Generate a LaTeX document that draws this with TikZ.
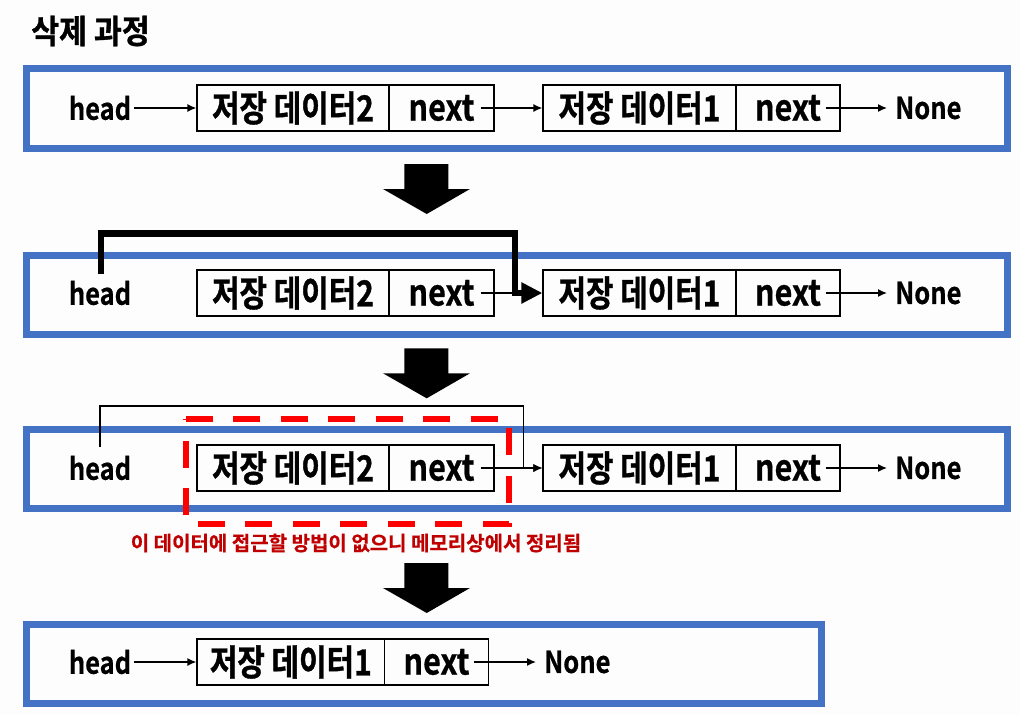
\documentclass[tikz,border=0pt]{standalone}
\usepackage{fontspec}
\usepackage{xcolor}
\usepackage{tikz}
\usetikzlibrary{calc,arrows.meta}
\newfontfamily\titlefont[FakeStretch=0.92,FakeBold=1]{Noto Sans CJK KR Bold}
\newfontfamily\datafont[FakeStretch=0.83,FakeBold=1]{Noto Sans CJK KR Bold}
\newfontfamily\latinfont[FakeStretch=0.85,FakeBold=0.6]{Noto Sans CJK KR Bold}
\newfontfamily\notefont[FakeBold=0.6]{Noto Sans CJK KR Bold}
\definecolor{paper}{HTML}{FDFDFD}
\definecolor{frame}{HTML}{4472C4}
\definecolor{gone}{HTML}{FF0000}
\definecolor{note}{HTML}{C00000}
\tikzset{
  stage/.style={draw=frame, line width=7pt},
  datacell/.style={draw, line width=1.2pt, minimum height=46pt, inner sep=0pt,
    font=\datafont\fontsize{36}{38}\selectfont},
  nextcell/.style={draw, line width=1.2pt, minimum height=46pt, minimum width=105pt,
    inner sep=0pt, font=\latinfont\fontsize{36}{38}\selectfont},
  word/.style={inner xsep=3pt, font=\latinfont\fontsize{30}{32}\selectfont},
  nonelab/.style={anchor=west, inner xsep=8pt, font=\latinfont\fontsize{30}{32}\selectfont},
  ptr/.style={line width=1.4pt, -{Latex[length=9pt 0,width=8pt 0]}},
  fatptr/.style={line width=6.7pt, -{Triangle[length=21pt 0,width=20pt 0]}},
  wipe/.style={draw=gone, line width=6pt, dash pattern=on 27pt off 20.5pt},
}

\begin{document}
\begin{tikzpicture}[x=1pt,y=-1pt]
  \fill[paper] (0,0) rectangle (1020,715);
  \useasboundingbox (0,0) rectangle (1020,715);

  \node[anchor=west, inner sep=0pt, font=\titlefont\fontsize{33}{35}\selectfont] (title) at (31,31) {삭제 과정};

  % stage frames
  \draw[stage] (26.3,68.3) rectangle (1007.5,148.3);
  \draw[stage] (26.3,255) rectangle (1007.5,334);
  \draw[stage] (26.3,429.3) rectangle (1007.5,508.3);
  \draw[stage] (26.3,624.5) rectangle (821.5,703);

  % big down arrows
  \foreach \y in {164,348.3,563}
    \fill (404.3,\y) -- (448.3,\y) -- (448.3,\y+25) -- (470,\y+25) -- (426.7,\y+50)
      -- (383,\y+25) -- (404.3,\y+25) -- cycle;

  % stage 1
  \node[word] (ha) at (100,108) {head};
  \node[datacell, minimum width=192pt] (d2a) at (293,108) {저장 데이터2};
  \node[nextcell] (n2a) at (441.5,108) {next};
  \node[datacell, minimum width=193pt] (d1a) at (639.5,108) {저장 데이터1};
  \node[nextcell, minimum width=104pt] (n1a) at (788,108) {next};
  \node[nonelab] (na) at (887,108) {None};
  \draw[ptr] (ha) -- (d2a);
  \draw[ptr] ($(n2a.east)+(-14,0)$) -- (d1a);
  \draw[ptr] ($(n1a.east)+(-15,0)$) -- (na);

  % stage 2
  \node[word] (hb) at (100,293) {head};
  \node[datacell, minimum width=192pt] (d2b) at (293,293) {저장 데이터2};
  \node[nextcell] (n2b) at (441.5,293) {next};
  \node[datacell, minimum width=193pt] (d1b) at (639.5,293) {저장 데이터1};
  \node[nextcell, minimum width=104pt] (n1b) at (788,293) {next};
  \node[nonelab] (nb) at (887,293) {None};
  \coordinate (hbtop) at (101,274);
  \coordinate (kb) at (515,233.7);
  \draw[line width=1.4pt] ($(n2b.east)+(-14,0)$) -- (kb |- d1b.west);
  \draw[fatptr] (hbtop) |- (kb) |- (d1b.west);
  \draw[ptr] ($(n1b.east)+(-15,0)$) -- (nb);

  % stage 3
  \node[word] (hc) at (100,468) {head};
  \node[datacell, minimum width=192pt] (d2c) at (293,468) {저장 데이터2};
  \node[nextcell] (n2c) at (441.5,468) {next};
  \node[datacell, minimum width=193pt] (d1c) at (639.5,468) {저장 데이터1};
  \node[nextcell, minimum width=104pt] (n1c) at (788,468) {next};
  \node[nonelab] (nc) at (887,468) {None};
  \coordinate (hctop) at (100,447);
  \coordinate (kc) at (523.5,406);
  \draw[ptr] (hctop) |- (kc) |- (d1c.west);
  \draw[ptr] ($(n2c.east)+(-14,0)$) -- (d1c);
  \draw[ptr] ($(n1c.east)+(-15,0)$) -- (nc);
  \draw[wipe] (185.5,419) -- (509,419) -- (509,523.7) -- (185.5,523.7) -- cycle;
  \node[text=note, font=\notefont\fontsize{20}{22}\selectfont] (gc) at (356,543)
    {이 데이터에 접근할 방법이 없으니 메모리상에서 정리됨};

  % stage 4
  \node[word] (hd) at (100,662) {head};
  \node[datacell, minimum width=187.6pt] (d1d) at (290.8,662) {저장 데이터1};
  \node[nextcell, minimum width=104pt] (n1d) at (436.5,662) {next};
  \node[nonelab] (nd) at (536,662) {None};
  \draw[ptr] (hd) -- (d1d);
  \draw[ptr] ($(n1d.east)+(-15,0)$) -- (nd);
\end{tikzpicture}
\end{document}
